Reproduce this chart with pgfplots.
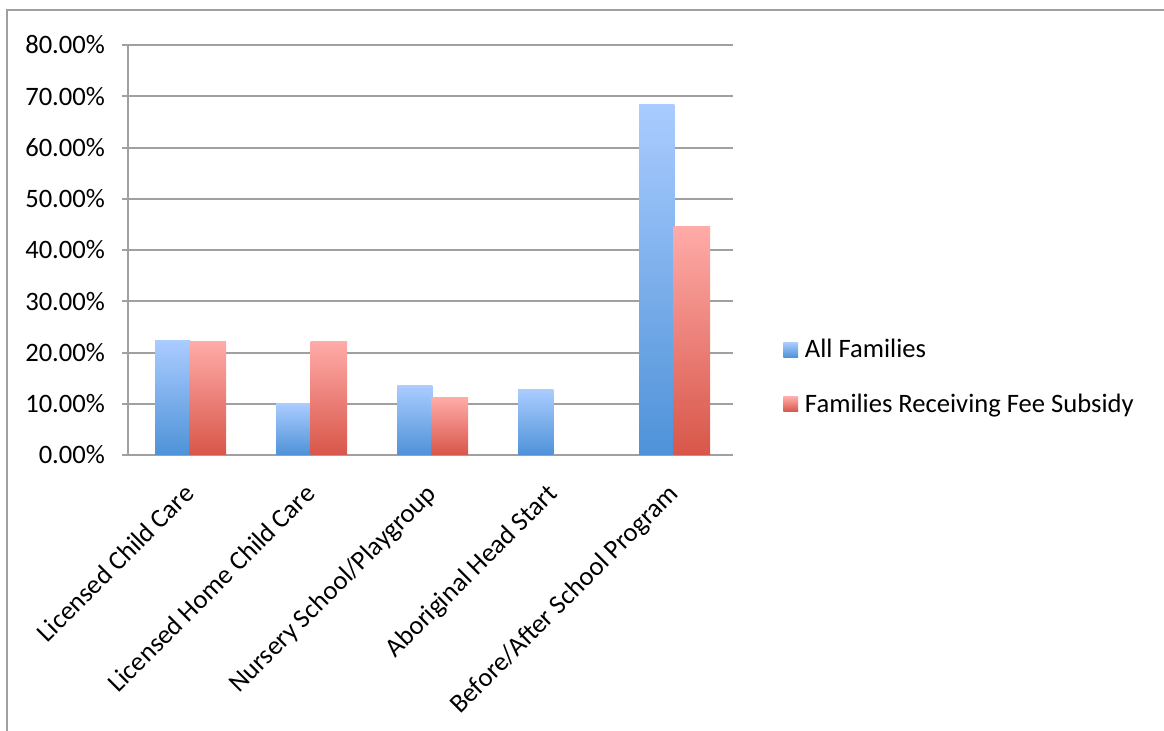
\documentclass[border=0pt]{standalone}
\usepackage{fontspec}
\setmainfont{Carlito}
\usepackage{pgfplots}
\pgfplotsset{compat=1.18}
\definecolor{gridgray}{HTML}{A0A0A0}
\definecolor{blueTop}{HTML}{AACCFF}
\definecolor{blueBot}{HTML}{4E92D8}
\definecolor{redTop}{HTML}{FFABA8}
\definecolor{redBot}{HTML}{D85649}
\pgfplotsset{
  blueb/.style={ybar, bar width=0.29, bar shift=-0.13, draw=none, top color=blueTop, bottom color=blueBot, forget plot},
  redb/.style={ybar, bar width=0.30, bar shift=0.16, draw=none, top color=redTop, bottom color=redBot, forget plot},
}
\begin{document}
\begin{tikzpicture}[font=\fontsize{13.3}{16}\selectfont]
\useasboundingbox (0,0) rectangle (582pt,-365.5pt);
\draw[gridgray, line width=1pt] (3.5pt,-380pt) -- (3.5pt,-5pt) -- (600pt,-5pt);
\begin{axis}[
  at={(64pt,-227.5pt)}, anchor=south west,
  scale only axis, width=302.5pt, height=205pt,
  xmin=-0.5, xmax=4.5, ymin=0, ymax=80,
  axis lines*=left,
  axis line style={gridgray, line width=1pt},
  ytick={0,10,...,80},
  ymajorgrids=true,
  major grid style={gridgray, line width=1pt},
  tick align=outside,
  tick style={gridgray, line width=1pt},
  major tick length=3pt,
  xtick={0,1,2,3,4},
  x tick style={draw=none},
  minor xtick={-0.5,0.5,1.5,2.5,3.5,4.5},
  minor x tick style={gridgray, line width=1pt},
  minor tick length=4pt,
  xticklabels={Licensed Child Care, Licensed Home Child Care, Nursery School/Playgroup, Aboriginal Head Start, Before/After School Program},
  xticklabel style={xshift=-3pt, yshift=-9pt, rotate=45, anchor=north east, inner sep=1pt, font=\fontsize{13.3}{16}\selectfont},
  yticklabel={\pgfmathprintnumber[fixed,fixed zerofill,precision=2]{\tick}\%},
  yticklabel style={font=\fontsize{13.3}{16}\selectfont, text=black, xshift=-5pt},
  /pgf/number format/assume math mode=true,
  legend style={draw=none, fill=none, at={(1,0.19)}, anchor=west, xshift=22pt,
    font=\fontsize{13.3}{16}\selectfont, row sep=12.5pt},
  legend cell align=left,
]
\addlegendimage{legend image code/.code={\shade[draw=none, top color=blueTop, bottom color=blueBot] (0pt,-3.7pt) rectangle (7.4pt,3.7pt); \path (8.6pt,0pt);}}
\addlegendentry{All Families}
\addlegendimage{legend image code/.code={\shade[draw=none, top color=redTop, bottom color=redBot] (0pt,-3.7pt) rectangle (7.4pt,3.7pt); \path (8.6pt,0pt);}}
\addlegendentry{Families Receiving Fee Subsidy}
% All Families
\addplot[blueb] coordinates {(0,22.3)};
\addplot[blueb] coordinates {(1,10.0)};
\addplot[blueb] coordinates {(2,13.5)};
\addplot[blueb] coordinates {(3,12.7)};
\addplot[blueb] coordinates {(4,68.4)};
% Families Receiving Fee Subsidy (Aboriginal Head Start = 0)
\addplot[redb] coordinates {(0,22.1)};
\addplot[redb] coordinates {(1,22.1)};
\addplot[redb] coordinates {(2,11.2)};
\addplot[redb] coordinates {(4,44.6)};
\end{axis}
\end{tikzpicture}
\end{document}
